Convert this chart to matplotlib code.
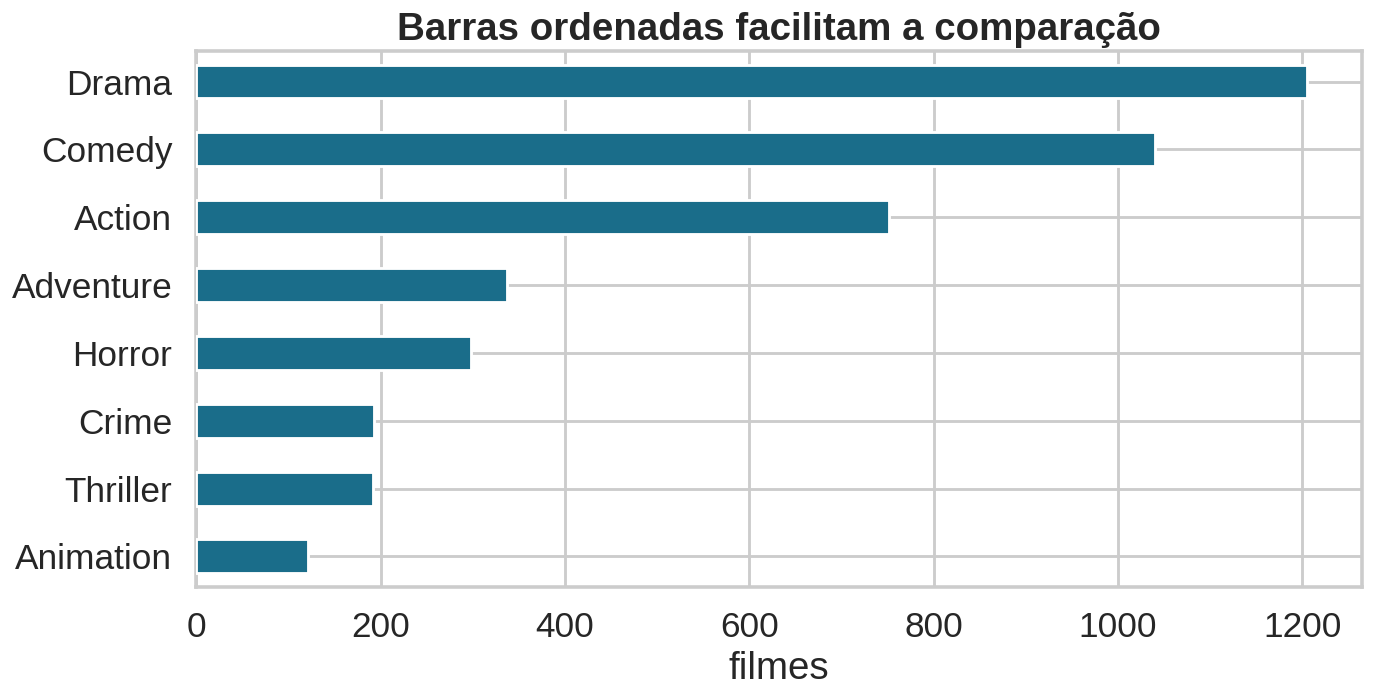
import matplotlib
matplotlib.use("Agg")
import matplotlib.pyplot as plt
import seaborn as sns

genres = ["Drama", "Comedy", "Action", "Adventure", "Horror", "Crime", "Thriller", "Animation"]
counts = [1205, 1040, 752, 337, 298, 193, 192, 121]

sns.set_theme(style="whitegrid", context="talk", font_scale=1.12)
plt.rcParams['font.family'] = ['Liberation Sans', 'DejaVu Sans']

fig, ax = plt.subplots(figsize=(10, 699 / 137.4), dpi=137.4)
ax.barh(genres[::-1], counts[::-1], height=0.5, color="#1a6d8a", zorder=3)
ax.set_xlim(0, max(counts) * 1.05)
ax.set_ylim(-0.45, len(genres) - 0.55)
ax.set_xlabel("filmes", labelpad=4)
ax.set_title("Barras ordenadas facilitam a comparação", fontweight="bold", pad=6)
fig.tight_layout(pad=0.3)
fig.savefig("out.png", dpi=137.4)
